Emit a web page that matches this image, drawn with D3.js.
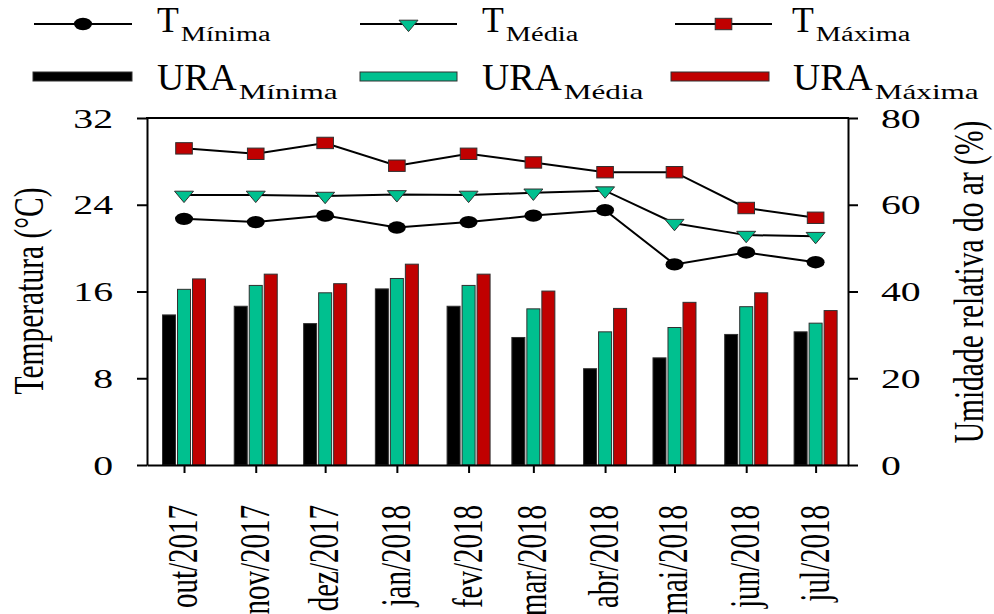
<!DOCTYPE html>
<html>
<head>
<meta charset="utf-8">
<script src="https://cdn.jsdelivr.net/npm/d3@7"></script>
<style>
  html, body { margin: 0; padding: 0; background: #fff; }
  svg { display: block; }
  text { font-family: "Liberation Serif", "Times New Roman", serif; fill: #000; }
</style>
</head>
<body>
<svg id="chart" width="994" height="614"></svg>
<script>
// Monthly records, Oct/2017 – Jul/2018
const months = ["2017-10-01", "2017-11-01", "2017-12-01", "2018-01-01", "2018-02-01",
                "2018-03-01", "2018-04-01", "2018-05-01", "2018-06-01", "2018-07-01"];
const monthLabels = ["out/2017", "nov/2017", "dez/2017", "jan/2018", "fev/2018",
                     "mar/2018", "abr/2018", "mai/2018", "jun/2018", "jul/2018"];

// Air temperature (°C)
const tMin = [22.7, 22.4, 23.0, 21.9, 22.4, 23.0, 23.5, 18.5, 19.6, 18.7];
const tMed = [24.9, 24.9, 24.8, 24.95, 24.9, 25.1, 25.3, 22.3, 21.2, 21.1];
const tMax = [29.2, 28.7, 29.7, 27.6, 28.7, 27.9, 27.0, 27.0, 23.7, 22.8];

// Relative air humidity (%)
const uraMin = [34.6, 36.6, 32.6, 40.6, 36.6, 29.4, 22.2, 24.7, 30.1, 30.7];
const uraMed = [40.5, 41.4, 39.7, 43.0, 41.4, 36.0, 30.7, 31.7, 36.5, 32.7];
const uraMax = [42.9, 44.0, 41.8, 46.3, 44.0, 40.1, 36.1, 37.5, 39.7, 35.6];

// Axis ticks
const tempTicks = [0, 8, 16, 24, 32];
const uraTicks = [0, 20, 40, 60, 80];

const BLACK = "#000000", GREEN = "#00C08F", RED = "#C00000", EDGE = "#303030";
const SX = 1.42;               // horizontal stretch applied to axis lettering
const box = { left: 147, right: 848, top: 118, bottom: 465 };

const svg = d3.select("#chart");
const parse = d3.timeParse("%Y-%m-%d");
const dates = months.map(parse);

const x = d3.scaleTime()
  .domain([parse("2017-09-15"), parse("2018-07-15")])
  .range([box.left, box.right]);
const yT = d3.scaleLinear().domain([0, 32]).range([box.bottom, box.top]);
const yU = d3.scaleLinear().domain([0, 80]).range([box.bottom, box.top]);

// stretched text helper
function sText(px, py, str, size, anchor, rotate) {
  return svg.append("text")
    .attr("transform", `translate(${px},${py}) scale(${SX},1)` + (rotate ? ` rotate(${rotate})` : ""))
    .attr("text-anchor", anchor || "start")
    .style("font-size", size + "px")
    .text(str);
}

// ---- humidity bars ----
const barSeries = [
  { values: uraMin, fill: BLACK },
  { values: uraMed, fill: GREEN },
  { values: uraMax, fill: RED }
];
const barW = 13, barStep = 15;
barSeries.forEach((s, k) => {
  svg.append("g").selectAll("rect")
    .data(dates.map((d, i) => ({ date: d, v: s.values[i] })))
    .join("rect")
    .attr("x", d => x(d.date) + (k - 1) * barStep - barW / 2)
    .attr("y", d => yU(d.v))
    .attr("width", barW)
    .attr("height", d => yU(0) - yU(d.v))
    .attr("fill", s.fill)
    .attr("stroke", EDGE)
    .attr("stroke-width", 1);
});

// ---- temperature lines ----
const markers = {
  circle: g => g.append("ellipse").attr("rx", 9).attr("ry", 6.2).attr("fill", BLACK),
  triangle: g => g.append("path").attr("d", "M-9.5,-3.8L9.5,-3.8L0,7.6Z")
      .attr("fill", GREEN).attr("stroke", EDGE).attr("stroke-width", 1),
  square: g => g.append("rect").attr("x", -8.3).attr("y", -5.7).attr("width", 16.6).attr("height", 11.4)
      .attr("fill", RED).attr("stroke", EDGE).attr("stroke-width", 1)
};
const lineSeries = [
  { values: tMax, marker: "square" },
  { values: tMed, marker: "triangle" },
  { values: tMin, marker: "circle" }
];
const line = d3.line().x(d => x(d.date)).y(d => yT(d.v));
lineSeries.forEach(s => {
  const pts = dates.map((d, i) => ({ date: d, v: s.values[i] }));
  svg.append("path").datum(pts)
    .attr("d", line).attr("fill", "none")
    .attr("stroke", BLACK).attr("stroke-width", 2);
  svg.append("g").selectAll("g").data(pts).join("g")
    .attr("transform", d => `translate(${x(d.date)},${yT(d.v)})`)
    .each(function () { markers[s.marker](d3.select(this)); });
});

// ---- axes ----
const axisStyle = g => {
  g.selectAll("path.domain").attr("stroke", BLACK).attr("stroke-width", 2);
  g.selectAll(".tick line").attr("stroke", BLACK).attr("stroke-width", 2);
  g.selectAll(".tick text").remove();
};
svg.append("g").attr("transform", `translate(${box.left},0)`)
  .call(d3.axisLeft(yT).tickValues(tempTicks).tickSize(10).tickSizeOuter(0))
  .call(axisStyle);
svg.append("g").attr("transform", `translate(${box.right},0)`)
  .call(d3.axisRight(yU).tickValues(uraTicks).tickSize(10).tickSizeOuter(0))
  .call(axisStyle);
svg.append("g").attr("transform", `translate(0,${box.bottom})`)
  .call(d3.axisBottom(x).tickValues(dates).tickSize(8).tickSizeOuter(0))
  .call(axisStyle);
svg.append("line")
  .attr("x1", box.left - 1).attr("x2", box.right + 1)
  .attr("y1", box.top).attr("y2", box.top)
  .attr("stroke", BLACK).attr("stroke-width", 2);

// tick labels
const TICK_FS = 28;
tempTicks.forEach(v => sText(113, yT(v) + TICK_FS * 0.34, v, TICK_FS, "end"));
uraTicks.forEach(v => sText(881, yU(v) + TICK_FS * 0.34, v, TICK_FS, "start"));
dates.forEach((d, i) => sText(x(d) + 13, 505, monthLabels[i], 29, "end", -90));

// axis titles
sText(43, 291, "Temperatura (°C)", 29.5, "middle", -90);
sText(983, 282, "Umidade relativa do ar (%)", 29.5, "middle", -90);

// ---- legend ----
function legendLabel(px, py, main, sub, mainSize, subSize) {
  const m = svg.append("text")
    .attr("transform", `translate(${px},${py}) scale(1.02,1)`)
    .style("font-size", mainSize + "px")
    .text(main);
  const w = m.node().getComputedTextLength() * 1.02 + 2;
  svg.append("text")
    .attr("transform", `translate(${px + w},${py + 9}) scale(${SX},1)`)
    .style("font-size", subSize + "px")
    .text(sub);
}
const legendLines = [
  { x0: 34, x1: 132, marker: "circle", main: "T", sub: "Mínima", tx: 157 },
  { x0: 360, x1: 457, marker: "triangle", main: "T", sub: "Média", tx: 482 },
  { x0: 675, x1: 772, marker: "square", main: "T", sub: "Máxima", tx: 792 }
];
legendLines.forEach(l => {
  const ly = 24;
  svg.append("line").attr("x1", l.x0).attr("x2", l.x1).attr("y1", ly).attr("y2", ly)
    .attr("stroke", BLACK).attr("stroke-width", 2);
  markers[l.marker](svg.append("g").attr("transform", `translate(${(l.x0 + l.x1) / 2},${ly})`));
  legendLabel(l.tx, 32, l.main, l.sub, 35, 20);
});
const legendBars = [
  { x0: 33, x1: 132, fill: BLACK, main: "URA", sub: "Mínima", tx: 157 },
  { x0: 360, x1: 457, fill: GREEN, main: "URA", sub: "Média", tx: 482 },
  { x0: 671, x1: 769, fill: RED, main: "URA", sub: "Máxima", tx: 793 }
];
legendBars.forEach(l => {
  svg.append("rect").attr("x", l.x0).attr("y", 72).attr("width", l.x1 - l.x0).attr("height", 9)
    .attr("fill", l.fill).attr("stroke", EDGE).attr("stroke-width", 1);
  legendLabel(l.tx, 90, l.main, l.sub, 37, 22);
});
</script>
</body>
</html>
